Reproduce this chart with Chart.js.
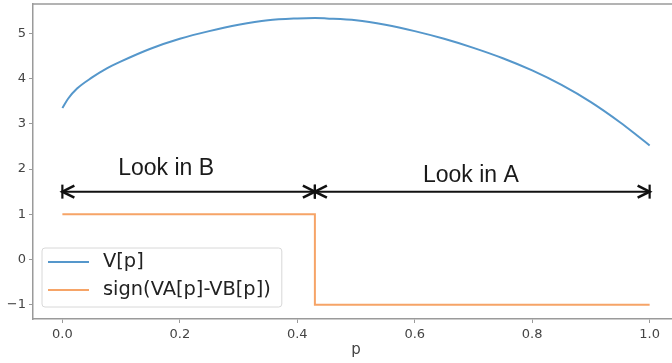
<!DOCTYPE html>
<html><head><meta charset="utf-8">
<script src="https://cdn.jsdelivr.net/npm/chart.js@4/dist/chart.umd.min.js"></script>
<style>
html,body{margin:0;padding:0;background:#fff;overflow:hidden;width:672px;height:363px}
#wrap{position:absolute;left:0;top:0;width:700px;height:363px}
</style>
</head><body>
<div id="wrap"><canvas id="c" width="700" height="363"></canvas></div>
<script>
// ---- data ----
const pValues = [0, 0.01, 0.025, 0.05, 0.075, 0.1, 0.15, 0.2, 0.25, 0.3, 0.35, 0.4, 0.43, 0.45, 0.5, 0.55, 0.6, 0.65, 0.7, 0.75, 0.8, 0.85, 0.9, 0.95, 0.975, 1.0];
const vValues = [3.35, 3.56, 3.78, 4.02, 4.22, 4.38, 4.66, 4.88, 5.05, 5.19, 5.29, 5.33, 5.34, 5.33, 5.29, 5.19, 5.05, 4.88, 4.68, 4.45, 4.18, 3.86, 3.48, 3.03, 2.78, 2.52];
const signP = [0, 0.43, 1.0];
const signValues = [1, -1, -1];
const seriesLabels = ['V[p]', 'sign(VA[p]-VB[p])'];
const xTicks = [0, 0.2, 0.4, 0.6, 0.8, 1.0];
const yTicks = [-1, 0, 1, 2, 3, 4, 5];
const xTitle = 'p';
const arrowLevel = 1.5;
const arrowStarts = [0, 0.43];
const arrowEnds = [0.43, 1.0];
const regionLabels = ['Look in B', 'Look in A'];
const regionLabelP = [0.095, 0.614];
const regionLabelV = [2.0, 1.85];

// ---- styles ----
const BLUE = '#5597cb', ORANGE = '#f6a467', AXIS = '#9a9a9a', TXT = '#444444';

const topSpine = {
  id: 'topSpine',
  afterDraw(chart) {
    const {ctx, chartArea: a} = chart;
    ctx.save();
    ctx.strokeStyle = AXIS; ctx.lineWidth = 1.5;
    ctx.beginPath(); ctx.moveTo(a.left, a.top); ctx.lineTo(a.right, a.top);
    ctx.moveTo(a.right, a.top); ctx.lineTo(a.right, a.bottom); ctx.stroke();
    ctx.restore();
  }
};

const arrows = {
  id: 'arrows',
  afterDatasetsDraw(chart) {
    const {ctx} = chart;
    const xs = chart.scales.x, ys = chart.scales.y;
    const y = ys.getPixelForValue(arrowLevel);
    ctx.save();
    ctx.strokeStyle = '#111'; ctx.lineCap = 'butt';
    const head = (x, dir) => {
      ctx.lineWidth = 2.6;
      ctx.beginPath();
      ctx.moveTo(x + dir * 12, y - 6); ctx.lineTo(x, y); ctx.lineTo(x + dir * 12, y + 6);
      ctx.stroke();
      ctx.lineWidth = 2.2;
      ctx.beginPath(); ctx.moveTo(x, y - 7); ctx.lineTo(x, y + 7); ctx.stroke();
    };
    for (let i = 0; i < arrowStarts.length; i++) {
      const x1 = xs.getPixelForValue(arrowStarts[i]), x2 = xs.getPixelForValue(arrowEnds[i]);
      ctx.lineWidth = 2;
      ctx.beginPath(); ctx.moveTo(x1, y); ctx.lineTo(x2, y); ctx.stroke();
      head(x1, 1); head(x2, -1);
    }
    ctx.fillStyle = '#1a1a1a';
    ctx.font = '23px "Liberation Sans", Arial, sans-serif';
    ctx.textAlign = 'left'; ctx.textBaseline = 'middle';
    for (let i = 0; i < regionLabels.length; i++) {
      ctx.fillText(regionLabels[i], xs.getPixelForValue(regionLabelP[i]), ys.getPixelForValue(regionLabelV[i]));
    }
    ctx.restore();
  }
};

const boxLegend = {
  id: 'boxLegend',
  afterDraw(chart) {
    const {ctx, chartArea: a} = chart;
    ctx.save();
    ctx.font = '19.4px "DejaVu Sans", sans-serif';
    const ds = chart.data.datasets;
    const textW = Math.max(...ds.map(d => ctx.measureText(d.label).width));
    const bx = a.left + 9, bw = 6 + 41 + 14 + textW + 11, bh = 59, by = a.bottom - 12 - bh;
    ctx.beginPath();
    ctx.roundRect(bx, by, bw, bh, 3);
    ctx.fillStyle = 'rgba(255,255,255,0.85)'; ctx.fill();
    ctx.strokeStyle = '#d8d8d8'; ctx.lineWidth = 1; ctx.stroke();
    ds.forEach((d, i) => {
      const ry = by + 14 + i * 28;
      ctx.strokeStyle = d.borderColor; ctx.lineWidth = 2;
      ctx.beginPath(); ctx.moveTo(bx + 6, ry); ctx.lineTo(bx + 47, ry); ctx.stroke();
      ctx.fillStyle = '#222'; ctx.textAlign = 'left'; ctx.textBaseline = 'middle';
      ctx.fillText(d.label, bx + 61, ry);
    });
    ctx.restore();
  }
};

new Chart(document.getElementById('c').getContext('2d'), {
  type: 'line',
  data: {
    datasets: [
      { label: seriesLabels[0], data: pValues.map((p, i) => ({x: p, y: vValues[i]})),
        borderColor: BLUE, borderWidth: 2, pointRadius: 0, cubicInterpolationMode: 'monotone', fill: false },
      { label: seriesLabels[1], data: signP.map((p, i) => ({x: p, y: signValues[i]})),
        borderColor: ORANGE, borderWidth: 2, pointRadius: 0, stepped: true, fill: false }
    ]
  },
  options: {
    responsive: false, animation: false, devicePixelRatio: 1,
    layout: { padding: { top: 4, right: 21, left: 0, bottom: 0 } },
    plugins: { legend: { display: false }, tooltip: { enabled: false } },
    scales: {
      x: {
        type: 'linear', min: -0.05, max: 1.05,
        afterBuildTicks: s => { s.ticks = xTicks.map(v => ({value: v})); },
        afterFit: s => { s.height = 44; s.paddingLeft = 0; s.paddingRight = 0; },
        grid: { drawOnChartArea: false, drawTicks: true, tickLength: 4, color: AXIS, lineWidth: 1 },
        border: { color: AXIS, width: 1.5 },
        ticks: { font: { family: 'DejaVu Sans', size: 13 }, color: TXT, padding: 4, maxRotation: 0,
                 callback: v => Number(v).toFixed(1) },
        title: { display: true, text: xTitle, font: { family: 'DejaVu Sans', size: 15 }, color: TXT,
                 padding: { top: 0, bottom: 4 } }
      },
      y: {
        type: 'linear', min: -1.317, max: 5.65,
        afterBuildTicks: s => { s.ticks = yTicks.map(v => ({value: v})); },
        afterFit: s => { s.width = 33; s.paddingTop = 0; s.paddingBottom = 0; },
        grid: { drawOnChartArea: false, drawTicks: true, tickLength: 4, color: AXIS, lineWidth: 1 },
        border: { color: AXIS, width: 1.5 },
        ticks: { font: { family: 'DejaVu Sans', size: 13 }, color: TXT, padding: 3,
                 callback: v => v < 0 ? '\u2212' + Math.abs(v) : String(v) }
      }
    }
  },
  plugins: [topSpine, arrows, boxLegend]
});
</script>
</body></html>
